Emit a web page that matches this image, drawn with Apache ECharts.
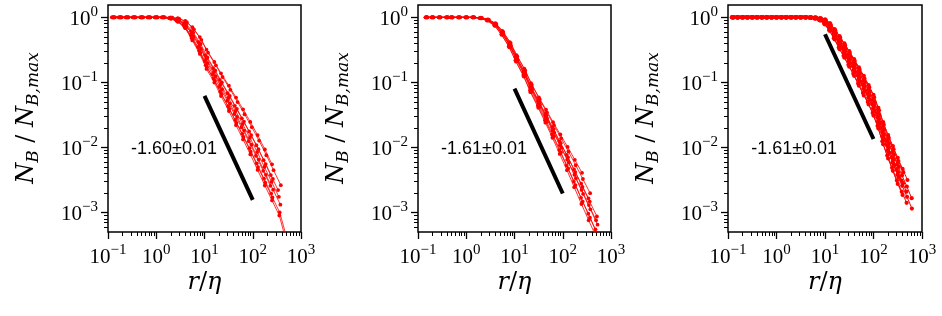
<!DOCTYPE html>
<html><head><meta charset="utf-8">
<script src="https://cdn.jsdelivr.net/npm/echarts@6/dist/echarts.min.js"></script>
<style>html,body{margin:0;padding:0;background:#fff}#c{width:942px;height:316px;background:#fff}</style>
</head><body><div id="c"></div>
<script>
// ---------- data ----------
const xTickExps = [-1, 0, 1, 2, 3];
const yTickExps = [-3, -2, -1, 0];
const xRangeExp = [-1, 3];      // 10^-1 .. 10^3
const yRangeExp = [-3.3, 0.19]; // ~5e-4 .. ~1.55
const xTitle = '{i|r}{u|/}{i|\u03b7}';
const yTitle = '{i|N}{s|B}{u| / }{i|N}{s|B,max}';

// panel 1
const r1 = [0.13,0.18,0.25,0.35,0.5,0.71,1,1.4,2,2.8,4,5.6,8,11,16,22,32,45,63,89,126,178,251,355,500];
const eta1 = [1.0,0.93,1.06,0.96,1.02,1.08,0.95,1.04,0.98,1.0];
const ys1 = [
 [1,1,1,1,1,1,1,1,0.998,0.970,0.879,0.706,0.497,0.319,0.206,0.138,0.0889,0.0585,0.0385,0.0247,0.0155,0.00933,0.0055],
 [1,1,1,1,1,1,1,1,0.991,0.951,0.843,0.655,0.451,0.286,0.183,0.121,0.0769,0.0499,0.0324,0.0205,0.0127,0.00759,0.00447,0.00263],
 [1,1,1,1,1,1,1,1,0.985,0.934,0.815,0.614,0.416,0.261,0.166,0.109,0.0681,0.0437,0.0280,0.0176,0.0108,0.00638,0.00376,0.00221],
 [1,1,1,1,1,1,1,1,0.981,0.922,0.793,0.584,0.390,0.242,0.153,0.0997,0.0619,0.0393,0.0250,0.0155,0.0094,0.00556,0.00327],
 [1,1,1,1,1,1,1,1,0.977,0.912,0.776,0.562,0.372,0.229,0.145,0.0933,0.0575,0.0363,0.0229,0.0141,0.0085,0.0050,0.00295,0.00174],
 [1,1,1,1,1,1,1,1,0.973,0.900,0.755,0.535,0.348,0.213,0.134,0.0855,0.0522,0.0327,0.0204,0.0125,0.00745,0.00437,0.00257],
 [1,1,1,1,1,1,1,1,0.968,0.887,0.735,0.508,0.327,0.198,0.124,0.0783,0.0474,0.0294,0.0182,0.0110,0.00652,0.0038,0.00224,0.00132],
 [1,1,1,1,1,1,1,1,0.964,0.875,0.714,0.483,0.306,0.184,0.114,0.0718,0.0431,0.0264,0.0162,0.00973,0.0057,0.00331,0.00195],
 [1,1,1,1,1,1,1,1,0.959,0.863,0.695,0.459,0.287,0.171,0.106,0.0658,0.0391,0.0238,0.0145,0.00859,0.00499,0.00288,0.0017,0.001,0.0004],
 [1,1,1,1,1,1,1,1,0.956,0.854,0.681,0.442,0.274,0.161,0.0997,0.0616,0.0363,0.0220,0.0133,0.00782,0.00451,0.0026,0.00153,0.0009,0.00035]
];

// panel 2
const r2 = [0.15,0.2,0.28,0.4,0.5,0.71,1,1.4,2,2.8,4,5.6,8,11,16,22,32,45,63,89,126,178,251,355,500];
const eta2 = [1.0,0.96,1.04,0.98,1.02,0.95,1.05,0.97,1.03];
const ys2 = [
 [1,1,1,1,1,1,1,1,0.989,0.933,0.813,0.617,0.417,0.263,0.162,0.0977,0.0589,0.0380,0.0245,0.0158,0.0102,0.00646,0.00407],
 [1,1,1,1,1,1,1,1,0.984,0.925,0.798,0.600,0.402,0.251,0.153,0.0916,0.0547,0.0347,0.0220,0.0138,0.00867,0.00532,0.00327,0.00198],
 [1,1,1,1,1,1,1,1,0.981,0.918,0.787,0.587,0.391,0.243,0.147,0.0873,0.0518,0.0324,0.0202,0.0124,0.00766,0.0046,0.00277,0.00165],
 [1,1,1,1,1,1,1,1,0.978,0.914,0.780,0.579,0.384,0.237,0.143,0.0845,0.0499,0.0309,0.0191,0.0116,0.00705,0.00418,0.00248,0.00147,0.00087],
 [1,1,1,1,1,1,1,1,0.976,0.910,0.773,0.571,0.377,0.232,0.139,0.0818,0.0481,0.0295,0.0181,0.0108,0.00649,0.00379,0.00222,0.0013,0.00076],
 [1,1,1,1,1,1,1,1,0.973,0.905,0.764,0.562,0.368,0.225,0.135,0.0786,0.0459,0.0279,0.0169,0.00994,0.00585,0.00336,0.00193,0.00112,0.00065],
 [1,1,1,1,1,1,1,1,0.970,0.900,0.755,0.552,0.360,0.219,0.130,0.0755,0.0439,0.0263,0.0158,0.00912,0.00527,0.00298,0.00168,0.00096,0.00055],
 [1,1,1,1,1,1,1,1,0.968,0.894,0.746,0.543,0.352,0.213,0.126,0.0725,0.0419,0.0248,0.0147,0.00837,0.00475,0.00264,0.00147,0.00083,0.00047],
 [1,1,1,1,1,1,1,1,0.966,0.891,0.741,0.537,0.347,0.209,0.123,0.0708,0.0407,0.0240,0.0141,0.00794,0.00447,0.00245,0.00135,0.00076,0.00043]
];

// panel 3
const r3 = [0.126,0.158,0.2,0.251,0.316,0.398,0.501,0.631,0.794,1,1.26,1.58,2,2.51,3.16,3.98,5.01,6.31,7.94,10,12.6,15.8,20,25.1,31.6,39.8,50.1,63.1,79.4,100,126,158,200,251,316,398,501,631];
const eta3 = [1.0,0.97,1.03,0.95,1.05,0.98,1.02,0.96,1.04,1.0];
const ys3 = [
 [1,1,1,1,1,1,1,1,1,1,1,1,1,1,1,1,1,1,0.977,0.933,0.813,0.661,0.513,0.398,0.302,0.229,0.170,0.126,0.0912,0.0646,0.0407,0.0245,0.0155,0.0105,0.00692,0.00468,0.00316],
 [1,1,1,1,1,1,1,1,1,1,1,1,1,1,1,1,0.998,0.994,0.966,0.912,0.785,0.631,0.484,0.374,0.282,0.213,0.157,0.115,0.0837,0.0589,0.0372,0.0223,0.014,0.00939,0.00617,0.00417],
 [1,1,1,1,1,1,1,1,1,1,1,1,1,1,1,1,0.997,0.989,0.955,0.891,0.759,0.603,0.457,0.351,0.263,0.197,0.145,0.106,0.0767,0.0537,0.0339,0.0202,0.0126,0.00841,0.0055,0.00372,0.00251,0.00166],
 [1,1,1,1,1,1,1,1,1,1,1,1,1,1,1,1,0.995,0.984,0.946,0.875,0.738,0.581,0.437,0.333,0.249,0.186,0.136,0.0989,0.0716,0.0499,0.0315,0.0187,0.0116,0.00771,0.00501],
 [1,1,1,1,1,1,1,1,1,1,1,1,1,1,1,1,0.994,0.979,0.938,0.859,0.718,0.560,0.417,0.317,0.236,0.175,0.127,0.0923,0.0668,0.0463,0.0292,0.0173,0.0107,0.00706,0.00457,0.00309,0.00209],
 [1,1,1,1,1,1,1,1,1,1,1,1,1,1,1,1,0.992,0.975,0.929,0.843,0.698,0.540,0.398,0.301,0.223,0.165,0.119,0.0861,0.0624,0.0431,0.0272,0.016,0.00982,0.00647,0.00417,0.00282],
 [1,1,1,1,1,1,1,1,1,1,1,1,1,1,1,1,0.991,0.971,0.920,0.828,0.679,0.520,0.380,0.286,0.211,0.155,0.112,0.0804,0.0582,0.04,0.0252,0.0148,0.00904,0.00593,0.0038,0.00257,0.00174,0.00115],
 [1,1,1,1,1,1,1,1,1,1,1,1,1,1,1,1,0.990,0.966,0.912,0.813,0.661,0.501,0.363,0.272,0.2,0.146,0.105,0.075,0.0543,0.0372,0.0234,0.0136,0.00832,0.00543,0.00347],
 [1,1,1,1,1,1,1,1,1,1,1,1,1,1,1,1,0.988,0.960,0.902,0.794,0.638,0.479,0.343,0.256,0.186,0.136,0.0966,0.0688,0.0498,0.0339,0.0214,0.0124,0.0075,0.00487,0.00309,0.00209,0.00141],
 [1,1,1,1,1,1,1,1,1,1,1,1,1,1,1,1,0.986,0.955,0.891,0.776,0.617,0.457,0.324,0.240,0.174,0.126,0.0891,0.0631,0.0457,0.0309,0.0195,0.0112,0.00676,0.00437,0.00275,0.00186]
];

// fitted slope guide lines (x, y end points) and their labels
const slopeX = [10, 100];
const slopeY = [[0.062, 0.00156], [0.08, 0.00196], [0.55, 0.0135]];
const slopeLabels = ['-1.60\u00b10.01', '-1.61\u00b10.01', '-1.61\u00b10.01'];
const labelAt = [0.3, 0.0095];

const panels = [
  {r: r1, eta: eta1, ys: ys1, sym: 3.8, lw: 0.8},
  {r: r2, eta: eta2, ys: ys2, sym: 3.8, lw: 0.8},
  {r: r3, eta: eta3, ys: ys3, sym: 4.2, lw: 1.0}
];

// ---------- layout / styling ----------
const L = Math.log10;
const gridLefts = [108, 418, 728];
const gridWidths = [193, 193, 194];
const SERIF = 'Liberation Serif';
const TSERIF = 'DejaVu Serif';
const red = '#ff0000';

function expLabel(v) {
  const e = Math.round(v);
  return '{b|10}{s|' + (e < 0 ? '\u2212' + (-e) : e) + '}';
}
function tickRich() {
  return {
    b: {fontFamily: SERIF, fontSize: 21, lineHeight: 25, color: '#000', verticalAlign: 'bottom'},
    s: {fontFamily: SERIF, fontSize: 15, lineHeight: 15, color: '#000', verticalAlign: 'top'}
  };
}
function titleRich() {
  return {
    i: {fontFamily: TSERIF, fontStyle: 'italic', fontSize: 24, lineHeight: 30, fill: '#000'},
    u: {fontFamily: TSERIF, fontSize: 24, lineHeight: 30, fill: '#000'},
    s: {fontFamily: TSERIF, fontStyle: 'italic', fontSize: 17, lineHeight: 17, fill: '#000', verticalAlign: 'bottom'}
  };
}
const xMinor = [], yMinor = [];
for (let k = -1; k <= 2; k++) for (let m = 2; m <= 9; m++) xMinor.push(L(m * Math.pow(10, k)));
for (let k = -4; k <= 0; k++) for (let m = 2; m <= 9; m++) {
  const v = L(m * Math.pow(10, k));
  if (v > yRangeExp[0] && v < yRangeExp[1]) yMinor.push(v);
}

// axes per grid: [0] data axis with labels + major ticks, [1] minor tick axis
const grid = [], xAxis = [], yAxis = [], series = [], graphic = [];
panels.forEach((p, g) => {
  grid.push({left: gridLefts[g], top: 5, width: gridWidths[g], height: 227,
    show: true, borderColor: '#000', borderWidth: 1.5,
    containLabel: false, outerBoundsMode: 'none'});
  xAxis.push({
    type: 'value', gridIndex: g, position: 'bottom', min: xRangeExp[0], max: xRangeExp[1],
    axisLine: {show: false, onZero: false}, splitLine: {show: false},
    axisTick: {show: true, customValues: xTickExps.slice(), length: 7, lineStyle: {color: '#000', width: 1.3}},
    axisLabel: {show: true, customValues: xTickExps.slice(), margin: 11, formatter: expLabel, rich: tickRich()}
  });
  xAxis.push({
    type: 'value', gridIndex: g, position: 'bottom', min: xRangeExp[0], max: xRangeExp[1],
    axisLine: {show: false, onZero: false}, splitLine: {show: false}, axisLabel: {show: false},
    axisTick: {show: true, customValues: xMinor.slice(), length: 4, lineStyle: {color: '#000', width: 1}}
  });
  yAxis.push({
    type: 'value', gridIndex: g, position: 'left', min: yRangeExp[0], max: yRangeExp[1],
    axisLine: {show: false, onZero: false}, splitLine: {show: false},
    axisTick: {show: true, customValues: yTickExps.slice(), length: 7, lineStyle: {color: '#000', width: 1.3}},
    axisLabel: {show: true, customValues: yTickExps.slice(), margin: 10, formatter: expLabel, rich: tickRich()}
  });
  yAxis.push({
    type: 'value', gridIndex: g, position: 'left', min: yRangeExp[0], max: yRangeExp[1],
    axisLine: {show: false, onZero: false}, splitLine: {show: false}, axisLabel: {show: false},
    axisTick: {show: true, customValues: yMinor.slice(), length: 4, lineStyle: {color: '#000', width: 1}}
  });

  // axis titles
  graphic.push({type: 'text', x: gridLefts[g] + gridWidths[g] / 2, y: 283, silent: true,
    style: {text: xTitle, rich: titleRich(), align: 'center', verticalAlign: 'middle'}});
  graphic.push({type: 'text', x: gridLefts[g] - 81, y: 118, rotation: Math.PI / 2, silent: true,
    style: {text: yTitle, rich: titleRich(), align: 'center', verticalAlign: 'middle'}});

  p.ys.forEach((arr, i) => {
    series.push({
      type: 'line', xAxisIndex: 2 * g, yAxisIndex: 2 * g,
      data: arr.map((y, j) => [L(p.r[j] / p.eta[i]), L(y)]),
      symbol: 'circle', symbolSize: p.sym, showSymbol: true,
      lineStyle: {color: red, width: p.lw}, itemStyle: {color: red}
    });
  });
  series.push({
    type: 'line', xAxisIndex: 2 * g, yAxisIndex: 2 * g,
    data: slopeX.map((x, j) => [L(x), L(slopeY[g][j])]),
    symbol: 'none', lineStyle: {color: '#000', width: 4}
  });
});

const chart = echarts.init(document.getElementById('c'), null, {renderer: 'canvas'});
chart.setOption({animation: false, grid, xAxis, yAxis, series, graphic});

// slope annotations, placed at data coordinates through the chart's own scales
const notes = slopeLabels.map((t, g) => {
  const pt = chart.convertToPixel({xAxisIndex: 2 * g, yAxisIndex: 2 * g}, [L(labelAt[0]), L(labelAt[1])]);
  return {type: 'text', x: pt[0], y: pt[1], silent: true,
    style: {text: t, fontFamily: 'Liberation Sans', fontSize: 18, fill: '#000', align: 'left', verticalAlign: 'middle'}};
});
chart.setOption({graphic: graphic.concat(notes)});
</script>
</body></html>
